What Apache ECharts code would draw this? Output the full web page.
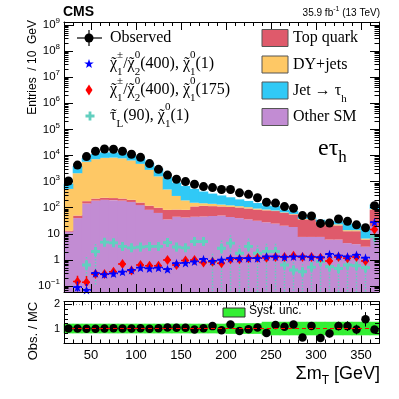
<!DOCTYPE html>
<html>
<head>
<meta charset="utf-8">
<title>Sum mT, e tau_h channel</title>
<script src="https://cdn.jsdelivr.net/npm/echarts@6.0.0/dist/echarts.min.js"></script>
<style>
  html, body { margin: 0; padding: 0; background: #fff; }
  #main { width: 399px; height: 399px; }
</style>
</head>
<body>
<div id="main"></div>
<script>
// 10 GeV bins, centres
const binCenters = [25, 35, 45, 55, 65, 75, 85, 95, 105, 115, 125, 135, 145, 155, 165, 175, 185, 195,
  205, 215, 225, 235, 245, 255, 265, 275, 285, 295, 305, 315, 325, 335, 345, 355, 365];
const binWidth = 10;

// stacked backgrounds, bottom to top (entries / 10 GeV)
const otherSM = [12, 40, 145, 186, 200, 195, 186, 166, 126, 83, 63, 35.5, 45, 42, 45, 46, 48, 50,
  44, 40, 35.5, 31.6, 27.5, 24.5, 20.4, 18.2, 7.6, 7.6, 7.6, 6, 6, 4.4, 4, 3.2, 20];
const topQuark = [1.2, 10, 33, 38, 40, 39, 38, 34, 32, 37, 37, 47, 40, 41, 67, 72, 67, 62,
  63, 62, 58, 53, 52, 50, 43, 37, 28, 28, 17.5, 15, 15, 8.2, 8.6, 2.8, 65];
const dyJets = [512, 2040, 5580, 7020, 7890, 8080, 7540, 6260, 4630, 2700, 1485, 418, 197, 107, 43, 30, 26, 20,
  16, 12.5, 11.4, 8.2, 5.7, 3.5, 3, 2.5, 1.7, 1.7, 3.7, 3.1, 2, 1.2, 1.2, 0.6, 4];
const jetFakes = [307, 1890, 2190, 4240, 5060, 4870, 4540, 3780, 2980, 2310, 1580, 980, 630, 486, 370, 269, 206, 163,
  128, 94, 77, 58, 35, 37, 17, 16.6, 8.5, 4.5, 5.9, 6.2, 7.3, 10.7, 9.6, 9.2, 43];

const observed = [1050, 4300, 9100, 14500, 17800, 17400, 14500, 11200, 8500, 4900, 2950, 1780, 1230, 1000, 790, 645, 590, 500,
  500, 370, 325, 240, 162, 150, 110, 95, 50, 48, 25, 26, 37, 30, 22, 17, 120];

// signals
const sigChi400to1 = [null, 0.09, 0.07, 0.31, 0.28, 0.30, 0.35, 0.41, 0.50, 0.47, 0.50, 0.44, 0.74, 0.76, 0.86, 1.07, 0.90, 1.0,
  1.16, 1.16, 1.16, 1.16, 1.34, 1.34, 1.3, 1.34, 1.34, 1.3, 1.25, 1.66, 1.45, 1.34, 1.55, 1.2, 27.5];
const sigChi400to1Err = [null, 0.06, 0.05, 0.08, 0.07, 0.07, 0.08, 0.09, 0.1, 0.1, 0.1, 0.1, 0.13, 0.13, 0.14, 0.16, 0.15, 0.15,
  0.17, 0.17, 0.17, 0.17, 0.19, 0.19, 0.19, 0.19, 0.19, 0.19, 0.18, 0.21, 0.2, 0.19, 0.2, 0.18, 1.5];
const sigChi400to175 = [null, 0.15, 0.14, 0.29, 0.29, 0.35, 0.70, 0.39, 0.64, 0.60, 0.60, 1.0, 0.64, 0.96, 1.0, 0.79, 0.85, 0.74,
  1.07, 1.07, 1.16, 1.2, 1.2, 1.3, 1.3, 1.43, 1.3, 1.3, 1.2, 0.9, 1.3, 1.16, 1.3, 0.9, 14.5];
const sigChi400to175Err = [null, 0.1, 0.1, 0.08, 0.08, 0.09, 0.14, 0.09, 0.13, 0.12, 0.12, 0.16, 0.13, 0.16, 0.16, 0.14, 0.15, 0.14,
  0.17, 0.17, 0.18, 0.18, 0.18, 0.19, 0.19, 0.2, 0.19, 0.19, 0.18, 0.16, 0.19, 0.18, 0.19, 0.16, 1.2];
const sigStau90 = [null, null, 0.64, 2.1, 4.8, 4.5, 3.3, 2.9, 3.1, 3.3, 3.3, 4.6, 3.1, 2.9, 5.1, 5.1, 0.86, 2.8,
  4.4, 1.8, 3.3, 1.8, 2.1, 2.1, 0.64, 0.41, 0.35, 0.53, 0.86, 0.55, 0.47, 0.64, 0.6, 0.5, 7.9];
const sigStau90Err = [null, null, 0.64, 2.0, 1.2, 1.2, 1.0, 1.0, 1.0, 1.0, 1.0, 1.2, 1.0, 1.0, 1.3, 1.3, 0.86, 2.8,
  4.4, 1.8, 3.3, 1.8, 2.1, 2.1, 0.64, 0.41, 0.35, 0.53, 0.86, 0.55, 0.47, 0.64, 0.6, 0.5, 4.0];

// ratio panel
const ratio = [1.0, 1.0, 0.99, 0.99, 1.0, 1.01, 1.0, 1.0, 1.01, 0.99, 1.01, 1.04, 1.03, 1.03, 0.96, 1.01, 1.10, 0.93,
  1.17, 0.90, 0.97, 1.04, 0.82, 1.15, 1.07, 1.17, 0.63, 1.11, 0.61, 0.79, 1.10, 1.10, 0.96, 1.38, 0.96];
const ratioErr = [0.03, 0.02, 0.015, 0.012, 0.01, 0.01, 0.01, 0.012, 0.015, 0.02, 0.02, 0.03, 0.035, 0.04, 0.045, 0.05, 0.05, 0.05,
  0.05, 0.06, 0.06, 0.07, 0.08, 0.09, 0.1, 0.11, 0.12, 0.15, 0.16, 0.16, 0.18, 0.2, 0.2, 0.3, 0.1];
const systUnc = [0.2, 0.2, 0.2, 0.2, 0.2, 0.2, 0.2, 0.2, 0.2, 0.2, 0.2, 0.2, 0.2, 0.2, 0.2, 0.2, 0.2, 0.2,
  0.22, 0.22, 0.22, 0.22, 0.28, 0.28, 0.28, 0.28, 0.28, 0.28, 0.28, 0.28, 0.28, 0.28, 0.28, 0.28, 0.28];

// tick positions / labels
const xTicks = [50, 100, 150, 200, 250, 300, 350];
const yLogTicks = [0.1, 1, 10, 1e2, 1e3, 1e4, 1e5, 1e6, 1e7, 1e8, 1e9];
const ratioTicks = [1, 2];
const ratioMinorTicks = [0.4, 0.6, 0.8, 1.2, 1.4, 1.6, 1.8];

const yMin = 0.059, yMax = 1.3e9;
const ratioMin = 0.38, ratioMax = 2.12;
const serif = 'Liberation Serif';
const sans = 'Liberation Sans';

const backgrounds = [
  { name: 'Other SM', values: otherSM, color: '#c28cd3' },
  { name: 'Top quark', values: topQuark, color: '#df5a6b' },
  { name: 'DY+jets', values: dyJets, color: '#fec865' },
  { name: 'Jet -> tau_h', values: jetFakes, color: '#30c9f6' }
];

const chart = echarts.init(document.getElementById('main'), null, { renderer: 'canvas' });

// minor ticks
const xMinor = [];
for (let v = 30; v < 370; v += 10) xMinor.push(v);
const yLogMinor = [];
for (let e = -2; e <= 9; e++) {
  for (let k = 2; k <= 9; k++) {
    const v = k * Math.pow(10, e);
    if (v > yMin && v < yMax) yLogMinor.push(v);
  }
}

function xAx(grid, pos, ticks, len, line, extra) {
  return Object.assign({
    type: 'value', gridIndex: grid, position: pos, min: 20, max: 370, z: 10,
    axisLine: { show: line, onZero: false, lineStyle: { color: '#000', width: 1 } },
    axisTick: { show: true, inside: true, length: len, customValues: ticks, lineStyle: { color: '#000', width: 1 } },
    axisLabel: { show: false },
    splitLine: { show: false }
  }, extra || {});
}

function yAx(grid, pos, type, min, max, ticks, len, line, extra) {
  return Object.assign({
    type: type, gridIndex: grid, position: pos, min: min, max: max, z: 10,
    axisLine: { show: line, onZero: false, lineStyle: { color: '#000', width: 1 } },
    axisTick: { show: true, inside: true, length: len, customValues: ticks, lineStyle: { color: '#000', width: 1 } },
    axisLabel: { show: false },
    splitLine: { show: false }
  }, extra || {});
}

function rectItem(color) {
  return function (params, api) {
    const x = api.value(0);
    const p0 = api.coord([x - binWidth / 2, api.value(2)]);
    const p1 = api.coord([x + binWidth / 2, api.value(1)]);
    return {
      type: 'rect',
      shape: { x: p0[0] - 0.3, y: p0[1], width: p1[0] - p0[0] + 0.6, height: p1[1] - p0[1] },
      style: { fill: color }
    };
  };
}

// stacked histograms
const cumulative = binCenters.map(() => 0);
const stackSeries = backgrounds.map(bg => ({
  type: 'custom', name: bg.name, xAxisIndex: 0, yAxisIndex: 0, z: 2,
  encode: { x: 0, y: [1, 2] },
  renderItem: rectItem(bg.color),
  data: binCenters.map((x, i) => {
    const lo = cumulative[i];
    cumulative[i] += bg.values[i];
    return [x, Math.max(lo, yMin), cumulative[i]];
  })
}));

function signalSeries(values, errors, color, hStyle, vStyle, symbol, size, z) {
  const pts = [];
  binCenters.forEach((x, i) => {
    if (values[i] == null) return;
    pts.push([x, values[i], Math.max(values[i] - errors[i], yMin), values[i] + errors[i]]);
  });
  return [{
    type: 'custom', xAxisIndex: 0, yAxisIndex: 0, z: z,
    encode: { x: 0, y: [1, 2, 3] },
    renderItem: function (params, api) {
      const x = api.value(0), v = api.value(1);
      const l = api.coord([x - binWidth / 2, v]), r = api.coord([x + binWidth / 2, v]);
      const t = api.coord([x, api.value(3)]), b = api.coord([x, api.value(2)]);
      return {
        type: 'group', children: [
          { type: 'line', shape: { x1: l[0], y1: l[1], x2: r[0], y2: r[1] }, style: Object.assign({ stroke: color }, hStyle) },
          { type: 'line', shape: { x1: t[0], y1: t[1], x2: b[0], y2: b[1] }, style: Object.assign({ stroke: color }, vStyle) }
        ]
      };
    },
    data: pts
  }, {
    type: 'scatter', xAxisIndex: 0, yAxisIndex: 0, z: z + 0.5,
    symbol: symbol, symbolSize: size, itemStyle: { color: color, opacity: 1 },
    data: pts.map(p => [p[0], p[1]])
  }];
}

const starPath = 'path://M0,-10L2.35,-3.24L9.51,-3.09L3.8,1.24L5.88,8.09L0,4L-5.88,8.09L-3.8,1.24L-9.51,-3.09L-2.35,-3.24Z';
const crossPath = 'path://M-1.3,-4L1.3,-4L1.3,-1.3L4,-1.3L4,1.3L1.3,1.3L1.3,4L-1.3,4L-1.3,1.3L-4,1.3L-4,-1.3L-1.3,-1.3Z';
const colStau = '#62cfbf';

const signals = [].concat(
  signalSeries(sigStau90, sigStau90Err, colStau, { lineWidth: 2.2 }, { lineWidth: 1.5, lineDash: [1.5, 1.5] }, crossPath, 9, 3),
  signalSeries(sigChi400to175, sigChi400to175Err, '#ff0000', { lineWidth: 1.5, lineDash: [3, 2] }, { lineWidth: 1.5, lineDash: [2, 2] }, 'diamond', [7, 10], 4),
  signalSeries(sigChi400to1, sigChi400to1Err, '#0000ff', { lineWidth: 1.5, lineDash: [2, 2] }, { lineWidth: 1.5, lineDash: [2, 2] }, starPath, 9, 5)
);

const obsSeries = {
  type: 'scatter', xAxisIndex: 0, yAxisIndex: 0, z: 7,
  symbol: 'circle', symbolSize: 9, itemStyle: { color: '#000', opacity: 1 },
  data: binCenters.map((x, i) => [x, observed[i]])
};

// ratio panel
const ratioBand = {
  type: 'custom', xAxisIndex: 4, yAxisIndex: 4, z: 2,
  encode: { x: 0, y: [1, 2] },
  renderItem: rectItem('#33ef33'),
  data: binCenters.map((x, i) => [x, 1 - systUnc[i], 1 + systUnc[i]])
};
const ratioErrSeries = {
  type: 'custom', xAxisIndex: 4, yAxisIndex: 4, z: 3,
  encode: { x: 0, y: [1, 2] },
  renderItem: function (params, api) {
    const x = api.value(0);
    const t = api.coord([x, api.value(2)]), b = api.coord([x, api.value(1)]);
    return { type: 'line', shape: { x1: t[0], y1: t[1], x2: b[0], y2: b[1] }, style: { stroke: '#000', lineWidth: 1 } };
  },
  data: binCenters.map((x, i) => [x, ratio[i] - ratioErr[i], ratio[i] + ratioErr[i]]),
  markLine: {
    silent: true, symbol: 'none', label: { show: false }, animation: false,
    data: [
      { yAxis: 1, lineStyle: { color: '#ff0000', type: [4, 3], width: 1.2 } },
      { yAxis: 2, lineStyle: { color: '#999', type: [1, 2], width: 1 } }
    ]
  }
};
const ratioPoints = {
  type: 'scatter', xAxisIndex: 4, yAxisIndex: 4, z: 4,
  symbol: 'circle', symbolSize: 8.5, itemStyle: { color: '#000', opacity: 1 },
  data: binCenters.map((x, i) => [x, ratio[i]])
};

// legend / text decorations
// tl: a spacing tilde laid over the next letter (zero advance)
const legRich = {
  tl: { fontFamily: serif, fontSize: 16, lineHeight: 28, width: 0.01 },
  sp: { fontFamily: serif, fontSize: 11, lineHeight: 18, verticalAlign: 'top' },
  sb: { fontFamily: serif, fontSize: 11, lineHeight: 12, verticalAlign: 'bottom' },
  sbz: { fontFamily: serif, fontSize: 11, lineHeight: 12, verticalAlign: 'bottom', width: 0.01 },
  sbh: { fontFamily: serif, fontSize: 11, lineHeight: 16, verticalAlign: 'bottom' }
};
const TL = '{tl|\u200A˜}';
function legText(x, y, text) {
  return {
    type: 'text', x: x, y: y, z: 20,
    style: { text: text, fontFamily: serif, fontSize: 16, lineHeight: 28, fill: '#000', align: 'left', verticalAlign: 'middle', rich: legRich }
  };
}
function poly(cx, cy, pts, color) {
  return { type: 'polygon', z: 20, shape: { points: pts.map(p => [cx + p[0], cy + p[1]]) }, style: { fill: color } };
}
const starPts = [[0, -5], [1.2, -1.6], [4.8, -1.5], [1.9, 0.6], [2.9, 4], [0, 2], [-2.9, 4], [-1.9, 0.6], [-4.8, -1.5], [-1.2, -1.6]];
const diamondPts = [[0, -5.5], [3.5, 0], [0, 5.5], [-3.5, 0]];
const crossPts = [[-1.4, -4.5], [1.4, -4.5], [1.4, -1.4], [4.5, -1.4], [4.5, 1.4], [1.4, 1.4], [1.4, 4.5], [-1.4, 4.5], [-1.4, 1.4], [-4.5, 1.4], [-4.5, -1.4], [-1.4, -1.4]];

const graphics = [
  { type: 'text', x: 63, y: 12, z: 20, style: { text: 'CMS', fontFamily: sans, fontWeight: 'bold', fontSize: 14, fill: '#000', verticalAlign: 'middle' } },
  {
    type: 'text', x: 380, y: 13, z: 20,
    style: { text: '35.9 fb{sp|-1} (13 TeV)', fontFamily: sans, fontSize: 10, lineHeight: 14, fill: '#000', align: 'right', verticalAlign: 'middle',
      rich: { sp: { fontFamily: sans, fontSize: 7, verticalAlign: 'top' } } }
  },
  { type: 'text', x: 33, y: 20, rotation: Math.PI / 2, z: 20,
    style: { text: 'Entries  / 10  GeV', fontFamily: sans, fontSize: 12, fill: '#000', align: 'right', verticalAlign: 'middle' } },
  { type: 'text', x: 33, y: 331, rotation: Math.PI / 2, z: 20,
    style: { text: 'Obs. / MC', fontFamily: sans, fontSize: 13, fill: '#000', align: 'center', verticalAlign: 'middle' } },
  {
    type: 'text', x: 380, y: 374, z: 20,
    style: { text: 'Σm{sb|T} [GeV]', fontFamily: sans, fontSize: 18, lineHeight: 26, fill: '#000', align: 'right', verticalAlign: 'middle',
      rich: { sb: { fontFamily: sans, fontSize: 12, lineHeight: 14, verticalAlign: 'bottom' } } }
  },
  {
    type: 'text', x: 318, y: 149, z: 20,
    style: { text: 'eτ{sb|h}', fontFamily: serif, fontSize: 24, lineHeight: 34, fill: '#000', align: 'left', verticalAlign: 'middle',
      rich: { sb: { fontFamily: serif, fontSize: 17, lineHeight: 20, verticalAlign: 'bottom' } } }
  },
  // observed legend marker
  { type: 'line', z: 20, shape: { x1: 77, y1: 38, x2: 102, y2: 38 }, style: { stroke: '#000', lineWidth: 1.2 } },
  { type: 'line', z: 20, shape: { x1: 89, y1: 30, x2: 89, y2: 46 }, style: { stroke: '#000', lineWidth: 1.2 } },
  { type: 'circle', z: 21, shape: { cx: 89, cy: 38, r: 4.5 }, style: { fill: '#000' } },
  legText(110, 38, 'Observed'),
  poly(89, 64, starPts, '#0000ff'),
  legText(110, 64, TL + 'χ{sbz|1}{sp|±}/' + TL + 'χ{sbz|2}{sp|0}(400), ' + TL + 'χ{sbz|1}{sp|0}(1)'),
  poly(89, 90, diamondPts, '#ff0000'),
  legText(110, 90, TL + 'χ{sbz|1}{sp|±}/' + TL + 'χ{sbz|2}{sp|0}(400), ' + TL + 'χ{sbz|1}{sp|0}(175)'),
  poly(90, 116, crossPts, colStau),
  legText(110, 116, TL + 'τ{sb|L}(90), ' + TL + 'χ{sbz|1}{sp|0}(1)'),
  // ratio legend
  { type: 'rect', z: 20, shape: { x: 223, y: 308, width: 22, height: 9 }, style: { fill: '#33ef33', stroke: '#333', lineWidth: 1 } },
  { type: 'text', x: 249, y: 311, z: 20, style: { text: 'Syst. unc.', fontFamily: sans, fontSize: 12, fill: '#000', verticalAlign: 'middle' } }
];

// right legend (background boxes), listed top to bottom
const rightLegend = [
  { label: 'Top quark', color: backgrounds[1].color, y: 38 },
  { label: 'DY+jets', color: backgrounds[2].color, y: 64.5 },
  { label: 'Jet → τ{sbh|h}', color: backgrounds[3].color, y: 90.5 },
  { label: 'Other SM', color: backgrounds[0].color, y: 117 }
];
rightLegend.forEach(e => {
  graphics.push({ type: 'rect', z: 20, shape: { x: 262, y: e.y - 8.5, width: 26, height: 17 }, style: { fill: e.color, stroke: '#555', lineWidth: 1 } });
  graphics.push(legText(293, e.y, e.label));
});

const option = {
  animation: false,
  backgroundColor: '#fff',
  grid: [
    { left: 64, right: 20, top: 22, height: 270 },
    { left: 64, right: 20, top: 301.5, height: 42 }
  ],
  xAxis: [
    xAx(0, 'bottom', xTicks, 8, true),
    xAx(0, 'bottom', xMinor, 4, false),
    xAx(0, 'top', xTicks, 8, true),
    xAx(0, 'top', xMinor, 4, false),
    xAx(1, 'bottom', xTicks, 8, true, {
      axisLabel: { show: true, customValues: xTicks, fontFamily: sans, fontSize: 13, color: '#000', margin: 5 }
    }),
    xAx(1, 'bottom', xMinor, 4, false),
    xAx(1, 'top', xTicks, 8, true),
    xAx(1, 'top', xMinor, 4, false)
  ],
  yAxis: [
    yAx(0, 'left', 'log', yMin, yMax, yLogTicks, 9, true, {
      logBase: 10,
      axisLabel: {
        show: true, customValues: yLogTicks, fontFamily: sans, fontSize: 11.5, lineHeight: 16, color: '#000', margin: 4,
        formatter: function (v) {
          const e = Math.round(Math.log10(v));
          if (e === 0) return '1';
          if (e === 1) return '10';
          return '{b|10}{s|' + (e < 0 ? '−' + (-e) : e) + '}';
        },
        rich: {
          b: { fontFamily: sans, fontSize: 11.5, lineHeight: 16, color: '#000' },
          s: { fontFamily: sans, fontSize: 8, verticalAlign: 'top', color: '#000' }
        }
      }
    }),
    yAx(0, 'left', 'log', yMin, yMax, yLogMinor, 4.5, false, { logBase: 10 }),
    yAx(0, 'right', 'log', yMin, yMax, yLogTicks, 9, true, { logBase: 10 }),
    yAx(0, 'right', 'log', yMin, yMax, yLogMinor, 4.5, false, { logBase: 10 }),
    yAx(1, 'left', 'value', ratioMin, ratioMax, ratioTicks, 8, true, {
      axisLabel: { show: true, customValues: ratioTicks, fontFamily: sans, fontSize: 11, color: '#000', margin: 4 }
    }),
    yAx(1, 'left', 'value', ratioMin, ratioMax, ratioMinorTicks, 4, false),
    yAx(1, 'right', 'value', ratioMin, ratioMax, ratioTicks, 8, true),
    yAx(1, 'right', 'value', ratioMin, ratioMax, ratioMinorTicks, 4, false)
  ],
  series: [].concat(stackSeries, signals, [obsSeries, ratioBand, ratioErrSeries, ratioPoints]),
  graphic: graphics
};

chart.setOption(option);
</script>
</body>
</html>
